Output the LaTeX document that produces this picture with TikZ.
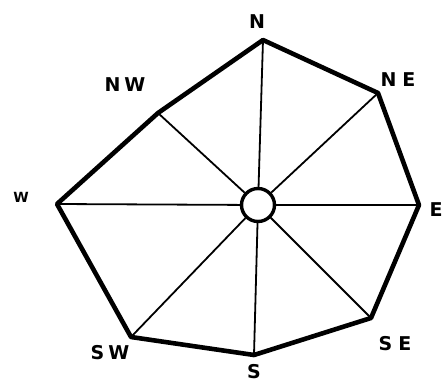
\documentclass[tikz,border=0pt]{standalone}
\usepackage{fontspec}
\setsansfont{DejaVu Sans}
\begin{document}
\begin{tikzpicture}[x=1pt,y=-1pt,
  rim/.style={line width=4.6pt,line join=round,line cap=round},
  spoke/.style={line width=1.8pt},
  hub/.style={circle,draw,line width=3.4pt,minimum size=33pt,inner sep=0pt},
  lbl/.style={font=\sffamily\bfseries\fontsize{19}{19}\selectfont,inner sep=0pt}]
\useasboundingbox (0,0) rectangle (445,383);
\coordinate (n) at (263,40);
\coordinate (ne) at (378,93);
\coordinate (e) at (419,205);
\coordinate (se) at (371,318);
\coordinate (s) at (254,355);
\coordinate (sw) at (131,337);
\coordinate (w) at (57,204);
\coordinate (nw) at (158,113);
\node[hub] (c) at (258,205) {};
\foreach \v in {n,ne,e,se,s,sw,w,nw} \draw[spoke] (c) -- (\v);
\draw[rim] (n) -- (ne) -- (e) -- (se) -- (s) -- (sw) -- (w) -- (nw) -- cycle;
\node[lbl] (ln) at (257,22) {N};
\node[lbl] (lne) at (398,80) {N\hspace{6pt}E};
\node[lbl] (le) at (436,210) {E};
\node[lbl] (lse) at (395,344) {S\hspace{6pt}E};
\node[lbl] (ls) at (254,372) {S};
\node[lbl] (lsw) at (110,353) {S\hspace{4pt}W};
\node[lbl] (lw) at (21,197) {\fontsize{14}{14}\selectfont W};
\node[lbl] (lnw) at (125,85) {N\hspace{4pt}W};
\end{tikzpicture}
\end{document}
